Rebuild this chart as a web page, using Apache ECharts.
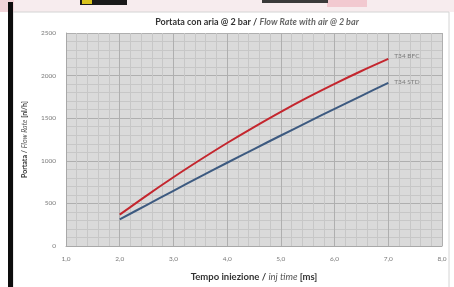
<!DOCTYPE html>
<html>
<head>
<meta charset="utf-8">
<script src="https://cdn.jsdelivr.net/npm/echarts@6/dist/echarts.min.js"></script>
<style>
  html, body { margin: 0; padding: 0; background: #fff; }
  #chart { width: 454px; height: 287px; }
</style>
</head>
<body>
<div id="chart"></div>
<script>
// tempo iniezione [ms]
const injTime = [2.0, 2.5, 3.0, 3.5, 4.0, 4.5, 5.0, 5.5, 6.0, 6.5, 7.0];
// portata [nl/h]
const bfcFlow = [368, 592, 807, 1012, 1209, 1396, 1575, 1744, 1903, 2054, 2196];
const stdFlow = [312, 481, 648, 814, 977, 1138, 1297, 1454, 1610, 1763, 1914];
const seriesNames = ['T34 BFC', 'T34 STD'];
const xTicks = [1, 2, 3, 4, 5, 6, 7, 8];
const yTicks = [0, 500, 1000, 1500, 2000, 2500];

const toPairs = (vals) => injTime.map((t, i) => [t, vals[i]]);

const chart = echarts.init(document.getElementById('chart'), null, { renderer: 'canvas' });

const font = 'Lato, "Open Sans", sans-serif';

// frame pieces from the photo, kept behind the chart
const backRect = (x, y, w, h, fill, extra) => Object.assign({
    type: 'rect', z: -20, silent: true,
    shape: { x: x, y: y, width: w, height: h },
    style: { fill: fill }
}, extra || {});

const option = {
    backgroundColor: '#ffffff',
    animation: false,
    textStyle: { fontFamily: font },
    graphic: [
        backRect(0, 0, 454, 12, '#f7ecee'),
        backRect(327, 0, 40, 7, '#f2c9d0'),
        backRect(0, 0, 14, 12, '#f2d4d9'),
        backRect(80, 0, 47, 5, '#1a1a1a'),
        backRect(82, 0, 10, 4, '#d8c21c'),
        backRect(262, 0, 66, 3, '#3a3a3a'),
        backRect(13, 12, 436, 280, '#ffffff', { style: { fill: '#ffffff', stroke: '#d4d4d4', lineWidth: 1 } }),
        backRect(8, 2, 5, 285, '#0d0d0d')
    ],
    title: {
        text: '{b|Portata con aria @ 2 bar / }{i|Flow Rate with air @ 2 bar}',
        left: 252,
        top: 13,
        textAlign: 'center',
        textStyle: {
            rich: {
                b: { fontFamily: font, fontSize: 9, fontWeight: 'bold', color: '#333' },
                i: { fontFamily: font, fontSize: 9, fontStyle: 'italic', color: '#666' }
            }
        }
    },
    grid: { left: 66, right: 12, top: 33, bottom: 32, show: true, backgroundColor: '#dadada', borderWidth: 0 },
    xAxis: {
        type: 'value',
        min: xTicks[0],
        max: xTicks[xTicks.length - 1],
        interval: 1,
        name: '{b|Tempo iniezione / }{i|inj time}{b| [ms]}',
        nameLocation: 'middle',
        nameGap: 26,
        nameTextStyle: {
            rich: {
                b: { fontFamily: font, fontSize: 9.5, fontWeight: 'bold', color: '#333' },
                i: { fontFamily: font, fontSize: 9.5, fontStyle: 'italic', color: '#555' }
            }
        },
        axisLine: { show: true, lineStyle: { color: '#a8a8a8' } },
        axisTick: { show: false },
        axisLabel: {
            color: '#7a7a7a', fontSize: 6.5, margin: 9,
            formatter: (v) => v.toFixed(1).replace('.', ',')
        },
        splitLine: { show: true, lineStyle: { color: '#afafaf', width: 1 } },
        minorTick: { show: false, splitNumber: 5 },
        minorSplitLine: { show: true, lineStyle: { color: '#c7c7c7', width: 1 } }
    },
    yAxis: {
        type: 'value',
        min: yTicks[0],
        max: yTicks[yTicks.length - 1],
        interval: 500,
        name: '{b|Portata / }{i|Flow Rate}{b| [nl/h]}',
        nameLocation: 'middle',
        nameGap: 38,
        nameTextStyle: {
            rich: {
                b: { fontFamily: font, fontSize: 7, fontWeight: 'bold', color: '#333' },
                i: { fontFamily: font, fontSize: 7, fontStyle: 'italic', color: '#555' }
            }
        },
        axisLine: { show: true, lineStyle: { color: '#a8a8a8' } },
        axisTick: { show: false },
        axisLabel: { color: '#7a7a7a', fontSize: 6.5, margin: 10, formatter: (v) => String(v) },
        splitLine: { show: true, lineStyle: { color: '#afafaf', width: 1 } },
        minorTick: { show: false, splitNumber: 5 },
        minorSplitLine: { show: true, lineStyle: { color: '#c7c7c7', width: 1 } }
    },
    series: [
        {
            name: seriesNames[0],
            type: 'line',
            data: toPairs(bfcFlow),
            smooth: 0.3,
            showSymbol: false,
            lineStyle: { color: '#c4262e', width: 2 },
            endLabel: { show: true, formatter: '{a}', color: '#7a7a7a', fontSize: 6.5, distance: 6, offset: [0, -3] }
        },
        {
            name: seriesNames[1],
            type: 'line',
            data: toPairs(stdFlow),
            smooth: 0.3,
            showSymbol: false,
            lineStyle: { color: '#3d5a80', width: 2 },
            endLabel: { show: true, formatter: '{a}', color: '#7a7a7a', fontSize: 6.5, distance: 6, offset: [0, -1] }
        }
    ]
};

chart.setOption(option);
</script>
</body>
</html>
